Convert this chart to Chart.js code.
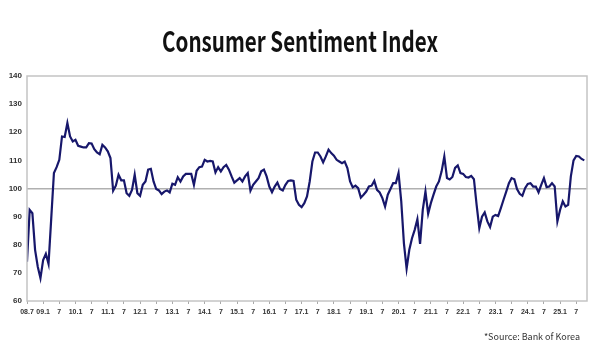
<!DOCTYPE html>
<html>
<head>
<meta charset="utf-8">
<script src="https://cdn.jsdelivr.net/npm/chart.js@4.4.1/dist/chart.umd.min.js"></script>
<style>
  html, body { margin: 0; padding: 0; background: #fff; }
</style>
</head>
<body>
<canvas id="csi" width="600" height="350"></canvas>
<script>
const titleText = 'Consumer Sentiment Index';
const sourceText = '*Source: Bank of Korea';

// one label every 6 months, starting 2008.7
const xTickLabels = [
  '08.7', '09.1', '7', '10.1', '7', '11.1', '7', '12.1', '7', '13.1', '7',
  '14.1', '7', '15.1', '7', '16.1', '7', '17.1', '7', '18.1', '7', '19.1', '7',
  '20.1', '7', '21.1', '7', '22.1', '7', '23.1', '7', '24.1', '7', '25.1', '7'
];

// monthly CSI, 2008.7 .. 2025.10
const csiValues = [
  74.0, 92.4, 91.2, 78.2, 72.2, 68.1,
  74.6, 76.8, 73.2, 89.3, 105.5, 107.6, 110.2, 118.5, 118.3, 123.3, 118.5, 116.7,
  117.3, 115.2, 114.9, 114.6, 114.6, 116.1, 116.0, 114.0, 112.8, 112.2, 115.5, 114.6,
  113.2, 110.8, 99.2, 101.0, 104.9, 102.9, 102.9, 98.3, 97.4, 99.5, 104.9, 98.3,
  97.4, 101.3, 102.5, 106.7, 107.0, 102.5, 99.8, 99.3, 98.0, 98.9, 99.3, 98.6,
  101.7, 101.3, 104.0, 102.5, 104.3, 105.2, 105.2, 105.2, 101.3, 106.3, 107.6, 107.8,
  110.2, 109.6, 109.8, 109.6, 105.7, 107.6, 106.1, 107.6, 108.4, 106.7, 104.3, 102.1,
  102.9, 103.7, 102.5, 104.3, 105.5, 99.2, 101.3, 102.5, 103.7, 106.1, 106.7, 104.3,
  100.7, 98.7, 100.7, 102.1, 99.8, 99.3, 101.3, 102.7, 102.9, 102.7, 96.0, 94.2,
  93.4, 94.8, 97.2, 102.5, 109.6, 112.8, 112.8, 111.4, 109.3, 111.4, 113.8, 112.6,
  111.7, 110.2, 109.6, 109.0, 109.6, 107.3, 102.5, 100.4, 101.0, 100.1, 96.8, 97.8,
  98.9, 100.7, 101.0, 102.7, 99.5, 98.6, 96.6, 93.6, 97.8, 99.8, 101.9, 101.9,
  105.5, 95.5, 80.5, 71.5, 78.2, 82.3, 85.3, 89.1, 80.3, 92.4, 98.9, 91.0,
  94.8, 97.8, 100.7, 102.5, 106.1, 111.4, 103.7, 103.2, 104.1, 107.3, 108.2, 105.5,
  105.2, 104.1, 103.9, 104.5, 103.3, 94.2, 85.9, 90.0, 91.5, 88.3, 86.3, 90.0,
  90.6, 90.2, 93.0, 96.0, 98.9, 101.9, 103.7, 103.3, 99.8, 98.1, 97.4, 100.1,
  101.6, 101.9, 100.7, 100.7, 98.6, 101.3, 103.7, 100.5, 100.7, 101.9, 100.7, 88.3,
  92.4, 95.4, 93.6, 94.2, 104.3, 110.0, 111.6, 111.4, 110.5, 110.0
];

const points = csiValues.map((v, i) => ({ x: i, y: v }));

// frame round the plot, title on top and source note at the bottom
const decorations = {
  id: 'decorations',
  afterDraw(chart) {
    const { ctx, chartArea: a } = chart;
    ctx.save();
    ctx.strokeStyle = '#c4c4c4';
    ctx.lineWidth = 1.5;
    ctx.strokeRect(a.left, a.top, a.right - a.left, a.bottom - a.top);

    ctx.fillStyle = '#111';
    ctx.font = 'bold 28px "Noto Sans CJK KR"';
    ctx.textAlign = 'center';
    ctx.textBaseline = 'alphabetic';
    const w = ctx.measureText(titleText).width;
    ctx.translate(300, 52);
    ctx.scale(276 / w, 1);
    ctx.fillText(titleText, 0, 0);
    ctx.restore();

    ctx.save();
    ctx.fillStyle = '#333';
    ctx.font = '9px "Noto Sans CJK KR"';
    ctx.textAlign = 'right';
    ctx.textBaseline = 'middle';
    ctx.fillText(sourceText, 580, 337);
    ctx.restore();
  }
};

const yFont = { family: 'Liberation Sans, Arial', size: 8, weight: 'bold' };
const xFont = { family: 'Liberation Sans, Arial', size: 7, weight: 'bold' };

new Chart(document.getElementById('csi'), {
  type: 'line',
  data: {
    datasets: [{
      data: points,
      borderColor: '#17176b',
      borderWidth: 2.2,
      pointRadius: 0,
      tension: 0
    }]
  },
  options: {
    responsive: false,
    animation: false,
    devicePixelRatio: 1,
    layout: { padding: { left: 0, right: 13, top: 76, bottom: 0 } },
    plugins: { legend: { display: false }, tooltip: { enabled: false } },
    scales: {
      x: {
        type: 'linear',
        min: 0,
        max: 208,
        afterFit(s) { s.height = 49; },
        border: { display: false },
        grid: { drawOnChartArea: false, tickLength: 3, color: '#aaa' },
        ticks: {
          stepSize: 6,
          includeBounds: false,
          autoSkip: false,
          maxRotation: 0,
          padding: 4,
          color: '#333',
          font: xFont,
          callback: v => xTickLabels[v / 6]
        }
      },
      y: {
        min: 60,
        max: 140,
        afterFit(s) { s.width = 27; },
        border: { display: false },
        grid: {
          drawTicks: false,
          color: c => c.tick && c.tick.value === 100 ? '#b0b0b0' : 'rgba(0,0,0,0)',
          lineWidth: 1.5
        },
        ticks: { stepSize: 10, padding: 5, color: '#333', font: yFont }
      }
    }
  },
  plugins: [decorations]
});
</script>
</body>
</html>
